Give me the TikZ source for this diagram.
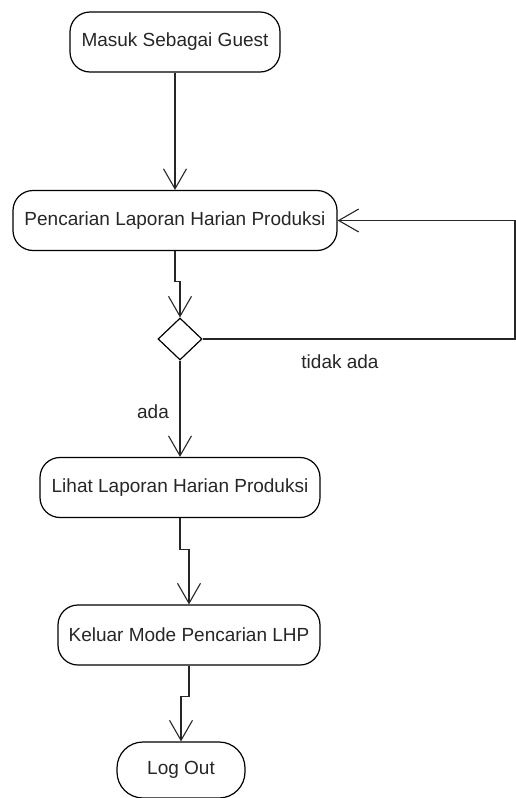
\documentclass[tikz,border=0pt]{standalone}
\usepackage{fontspec}
\setmainfont{Liberation Sans}
\usetikzlibrary{arrows.meta,shapes.geometric}

\begin{document}
\begin{tikzpicture}[
  x = 1pt, y = -1pt,
  every node/.style = {font = \fontsize{19}{21}\selectfont, text = black!85},
  action/.style = {draw, rounded corners = 20pt, minimum height = 60pt,
                   inner sep = 0pt, line width = 1.2pt},
  choice/.style = {draw, diamond, minimum width = 44pt, minimum height = 42pt,
                   inner sep = 0pt, line width = 1.2pt},
  flow/.style = {draw = black!85, line width = 1.1pt,
                 -{Straight Barb[length = 20pt, width = 23pt, line width = 1.1pt]}},
  ]
  \useasboundingbox (0,0) rectangle (516,798);
  \node[action, minimum width = 210pt] (masuk)   at (175,42)    {Masuk Sebagai Guest};
  \node[action, minimum width = 324pt] (cari)    at (175,220.5) {Pencarian Laporan Harian Produksi};
  \node[choice]                        (cek)     at (180,339)   {};
  \node[action, minimum width = 280pt] (lihat)   at (180,487.5) {Lihat Laporan Harian Produksi};
  \node[action, minimum width = 262pt] (keluar)  at (189,635)   {Keluar Mode Pencarian LHP};
  \node[action, minimum width = 128pt, minimum height = 56pt,
        rounded corners = 26pt]        (logout)  at (181,770)   {Log Out};
  \node (tidak) at (340,362) {tidak ada};
  \node (ada)   at (153,412) {ada};
  \coordinate (balik) at (515,339);

  \draw[flow] (masuk) -- (cari);
  \draw[flow] (cari.south) -- ++(0,30) -| (cek.north);
  \draw[flow] (cek.east) -- (balik) |- (cari.east);
  \draw[flow] (cek.south) -- (lihat.north);
  \draw[flow] (lihat.south) -- ++(0,31) -| (keluar.north);
  \draw[flow] (keluar.south) -- ++(0,31) -| (logout.north);
\end{tikzpicture}
\end{document}
